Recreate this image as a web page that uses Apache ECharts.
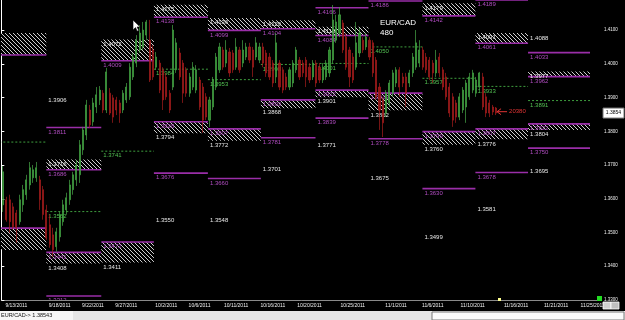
<!DOCTYPE html>
<html><head><meta charset="utf-8">
<script src="https://cdn.jsdelivr.net/npm/echarts@6/dist/echarts.min.js"></script>
<style>html,body{margin:0;padding:0;background:#000;}#c{width:625px;height:320px;}</style>
</head><body><div id="c"></div>
<script>
// ---------- data ----------
const SLOTS = 180; // 8-hour bar slots shown on the time axis (incl. future)
const dateTicks = [[4,'9/13/2011'],[17,'9/18/2011'],[27,'9/22/2011'],[37,'9/27/2011'],[49,'10/2/2011'],[59,'10/6/2011'],[70,'10/11/2011'],[81,'10/16/2011'],[92,'10/20/2011'],[105,'10/25/2011'],[118,'11/1/2011'],[129,'11/6/2011'],[141,'11/10/2011'],[154,'11/16/2011'],[166,'11/21/2011'],[177,'11/25/2011']];
const yTicks = {min: 1.33, max: 1.4189, step: 0.01};

// [open, close, low, high]
const candles = [
[1.3582,1.3680,1.3561,1.3697],[1.3597,1.3538,1.3532,1.3606],[1.3597,1.3532,1.3499,1.3612],[1.3576,1.3517,1.3508,1.3588],
[1.3558,1.3514,1.3470,1.3567],[1.3532,1.3597,1.3523,1.3612],[1.3582,1.3627,1.3561,1.3641],[1.3612,1.3656,1.3597,1.3671],
[1.3641,1.3692,1.3627,1.3709],[1.3662,1.3686,1.3647,1.3700],[1.3662,1.3692,1.3650,1.3709],[1.3656,1.3597,1.3567,1.3668],
[1.3627,1.3553,1.3538,1.3638],[1.3567,1.3484,1.3478,1.3582],[1.3523,1.3464,1.3455,1.3553],[1.3493,1.3449,1.3428,1.3514],
[1.3458,1.3502,1.3443,1.3514],[1.3487,1.3553,1.3473,1.3561],[1.3532,1.3582,1.3520,1.3597],[1.3567,1.3603,1.3553,1.3618],
[1.3597,1.3641,1.3582,1.3656],[1.3627,1.3671,1.3612,1.3680],[1.3656,1.3700,1.3638,1.3715],[1.3671,1.3760,1.3647,1.3774],
[1.3745,1.3804,1.3730,1.3813],[1.3789,1.3878,1.3774,1.3893],[1.3863,1.3819,1.3810,1.3878],[1.3828,1.3884,1.3816,1.3899],
[1.3872,1.3908,1.3854,1.3931],[1.3893,1.3922,1.3878,1.3934],[1.3913,1.3863,1.3854,1.3922],[1.3863,1.3976,1.3854,1.3988],
[1.3913,1.3854,1.3848,1.3928],[1.3899,1.3842,1.3825,1.3908],[1.3893,1.3863,1.3848,1.3902],[1.3884,1.3854,1.3825,1.3893],
[1.3863,1.3913,1.3854,1.3922],[1.3893,1.3931,1.3884,1.3943],[1.3902,1.3990,1.3893,1.4002],[1.3961,1.4020,1.3952,1.4032],
[1.4002,1.4070,1.3990,1.4085],[1.4041,1.4091,1.4032,1.4115],[1.4050,1.4100,1.4041,1.4124],[1.4085,1.4124,1.4070,1.4130],
[1.4070,1.3952,1.3946,1.4130],[1.4041,1.3961,1.3952,1.4056],[1.3990,1.4020,1.3982,1.4035],[1.4002,1.3922,1.3913,1.4011],
[1.3982,1.3893,1.3863,1.3990],[1.3961,1.3902,1.3893,1.3973],[1.3913,1.3863,1.3854,1.3922],[1.3931,1.4100,1.3922,1.4115],
[1.3982,1.4062,1.3973,1.4076],[1.4032,1.3961,1.3952,1.4047],[1.4002,1.3913,1.3884,1.4011],[1.3982,1.3913,1.3902,1.3990],
[1.3913,1.3961,1.3902,1.3973],[1.3931,1.3990,1.3922,1.4005],[1.3922,1.3982,1.3913,1.3996],[1.3952,1.3872,1.3863,1.3961],
[1.3931,1.3833,1.3795,1.3943],[1.3902,1.3842,1.3833,1.3913],[1.3833,1.3893,1.3813,1.3902],[1.3872,1.3952,1.3863,1.3961],
[1.3931,1.4020,1.3922,1.4032],[1.3982,1.4050,1.3973,1.4062],[1.4041,1.3990,1.3982,1.4050],[1.4002,1.4041,1.3990,1.4070],
[1.4035,1.3973,1.3961,1.4047],[1.4032,1.3982,1.3973,1.4041],[1.3990,1.4050,1.3982,1.4076],[1.4041,1.3982,1.3973,1.4050],
[1.4002,1.4041,1.3990,1.4070],[1.4020,1.4050,1.4011,1.4062],[1.4050,1.4011,1.4002,1.4062],[1.4041,1.3990,1.3961,1.4050],
[1.4020,1.4062,1.4011,1.4079],[1.4011,1.4050,1.4002,1.4062],[1.4050,1.4002,1.3990,1.4062],[1.4032,1.3973,1.3961,1.4041],
[1.4020,1.3961,1.3952,1.4032],[1.4002,1.3943,1.3931,1.4011],[1.3961,1.4062,1.3943,1.4091],[1.4002,1.3931,1.3922,1.4011],
[1.3982,1.3922,1.3913,1.3990],[1.3961,1.3931,1.3922,1.3973],[1.3931,1.3982,1.3922,1.3990],[1.3943,1.4002,1.3931,1.4011],
[1.3982,1.4041,1.3973,1.4050],[1.4011,1.3961,1.3952,1.4020],[1.4002,1.3973,1.3961,1.4011],[1.4011,1.3961,1.3931,1.4020],
[1.3990,1.3952,1.3943,1.4002],[1.3961,1.4002,1.3952,1.4011],[1.4002,1.3943,1.3931,1.4011],[1.3990,1.3952,1.3943,1.4002],
[1.3952,1.3990,1.3943,1.4002],[1.3961,1.4002,1.3952,1.4011],[1.3973,1.4041,1.3961,1.4050],[1.4011,1.4130,1.4002,1.4174],
[1.4070,1.4124,1.4062,1.4145],[1.4091,1.4145,1.4079,1.4168],[1.4121,1.4041,1.4032,1.4130],[1.4079,1.3990,1.3982,1.4091],
[1.4041,1.3961,1.3931,1.4050],[1.4020,1.3952,1.3943,1.4032],[1.3990,1.4062,1.3982,1.4124],[1.4032,1.4091,1.4020,1.4106],
[1.4070,1.4041,1.4032,1.4079],[1.4050,1.4079,1.4041,1.4091],[1.4070,1.4020,1.4011,1.4079],[1.4062,1.3973,1.3961,1.4070],
[1.4011,1.3902,1.3893,1.4020],[1.3931,1.3863,1.3804,1.3943],[1.3893,1.3825,1.3783,1.3902],[1.3854,1.3913,1.3842,1.3922],
[1.3884,1.3943,1.3872,1.3952],[1.3913,1.3973,1.3902,1.3982],[1.3943,1.3982,1.3931,1.3990],[1.3982,1.3931,1.3902,1.3990],
[1.3961,1.3943,1.3931,1.3973],[1.3961,1.3913,1.3872,1.3973],[1.3943,1.3973,1.3931,1.3982],[1.3973,1.4020,1.3961,1.4032],
[1.3990,1.4062,1.3982,1.4100],[1.4002,1.4041,1.3990,1.4070],[1.4041,1.3990,1.3982,1.4050],[1.4020,1.3982,1.3973,1.4032],
[1.4011,1.3961,1.3952,1.4020],[1.4002,1.3973,1.3943,1.4011],[1.3973,1.4011,1.3961,1.4041],[1.4020,1.3973,1.3961,1.4032],
[1.3982,1.3931,1.3922,1.3990],[1.3961,1.3902,1.3893,1.3973],[1.3931,1.3854,1.3842,1.3943],[1.3902,1.3833,1.3813,1.3913],
[1.3884,1.3842,1.3825,1.3893],[1.3842,1.3902,1.3833,1.3913],[1.3863,1.3922,1.3854,1.3931],[1.3872,1.3943,1.3825,1.3952],
[1.3902,1.3961,1.3893,1.3973],[1.3922,1.3973,1.3913,1.3982],[1.3913,1.3952,1.3902,1.3961],[1.3931,1.3973,1.3922,1.3976],
[1.3961,1.3872,1.3863,1.3973],[1.3902,1.3854,1.3842,1.3913],[1.3884,1.3854,1.3842,1.3893],[1.3872,1.3857,1.3848,1.3878],
[1.3869,1.3854,1.3848,1.3872]
];
const lastPrice = 1.3854;

// weekly level blocks: week boundaries on the bar-slot scale
const weekBounds = [-3, 13.5, 30.0, 45.8, 62.0, 77.9, 94.3, 110.2, 126.4, 142.3, 158.1, 176.7];
// [week, top, bottom]
const resistZones = [[0,1.4091,1.4026],[1,1.3716,1.3686],[2,1.4072,1.4009],[3,1.4175,1.4138],[4,1.4136,1.4099],[5,1.4129,1.4104],[6,1.4110,1.4084],[8,1.4179,1.4142],[9,1.4091,1.4061],[10,1.3977,1.3962]];
const supportZones = [[0,1.3513,1.3448],[1,1.3441,1.3408],[2,1.3472,1.3411],[3,1.3828,1.3794],[4,1.3807,1.3772],[5,1.3893,1.3868],[6,1.3922,1.3901],[7,1.3913,1.3862],[8,1.3799,1.3760],[9,1.3807,1.3776],[10,1.3822,1.3804]];
// [week, level]
const pivots = [[0,1.3768],[1,1.3562],[2,1.3741],[3,1.3984],[4,1.3953],[5,1.3998],[6,1.4001],[7,1.4050],[8,1.3957],[9,1.3933],[10,1.3891]];
const purpleLevels = [[1,1.3811],[1,1.3312],[3,1.3676],[4,1.3660],[5,1.3781],[6,1.4166],[6,1.3839],[7,1.4186],[7,1.3778],[8,1.3630],[9,1.4189],[9,1.3678],[10,1.4033],[10,1.3750]];
const whiteLevels = [[1,1.3906],[3,1.3550],[4,1.3548],[5,1.3701],[6,1.3771],[7,1.3675],[8,1.3499],[9,1.3581],[10,1.4088],[10,1.3695]];
// price arrow: [from slot, to slot, price, text]
const priceArrow = [151.8, 148.8, 1.3858, '20380'];
const titleText = ['EUR/CAD', '480'];
const statusText = 'EUR/CAD-> 1.38543';

// ---------- build ----------
const FONT = '"Liberation Sans", Arial, sans-serif';
const PURPLE = '#9a2ea8', PURPLE_T = '#b04cc0', WHITE = '#e6e6e6', GREEN = '#3e9e3e', GREEN_T = '#52c052', RED = '#e03434';

const categories = Array.from({length: SLOTS}, () => '');
dateTicks.forEach(([i, s]) => { categories[i] = s; });

const hatchCanvas = document.createElement('canvas');
hatchCanvas.width = 4; hatchCanvas.height = 4;
(function(){ const g = hatchCanvas.getContext('2d'); g.fillStyle = '#000'; g.fillRect(0,0,4,4); g.fillStyle = '#cfcfcf'; for (let i = 0; i < 4; i++) g.fillRect(i, i, 1, 1); })();
const hatch = {image: hatchCanvas, repeat: 'repeat'};

const overlay = [];
resistZones.forEach(([w,a,b]) => overlay.push([weekBounds[w], weekBounds[w+1], 0, a, b]));
supportZones.forEach(([w,a,b]) => overlay.push([weekBounds[w], weekBounds[w+1], 1, a, b]));
pivots.forEach(([w,v]) => overlay.push([weekBounds[w], weekBounds[w+1], 2, v, v]));
purpleLevels.forEach(([w,v]) => overlay.push([weekBounds[w], weekBounds[w+1], 3, v, v]));
whiteLevels.forEach(([w,v]) => overlay.push([weekBounds[w], weekBounds[w+1], 4, v, v]));
overlay.push([priceArrow[1], priceArrow[0], 5, priceArrow[2], priceArrow[2]]);

function txt(x, y, s, fill, size) {
  return {type: 'text', silent: true, style: {text: s, x: x, y: y, fill: fill, fontSize: size || 6, fontFamily: FONT, verticalAlign: 'top', align: 'left'}};
}
function renderItem(params, api) {
  const x0 = api.value(0), x1 = api.value(1), kind = api.value(2), a = api.value(3), b = api.value(4);
  const pA = api.coord([x0, a]);
  const X0 = pA[0], YA = pA[1], X1 = api.coord([x1, a])[0];
  const YB = api.coord([x1, b])[1];
  const lab = x0 >= 0;
  const kids = [];
  if (kind === 0 || kind === 1) {
    kids.push({type: 'rect', shape: {x: X0, y: YA, width: X1 - X0, height: YB - YA}, style: {fill: hatch}});
    const yl = kind === 0 ? YB : YA;
    kids.push({type: 'line', shape: {x1: X0, y1: yl, x2: X1, y2: yl}, style: {stroke: PURPLE, lineWidth: 1.6}});
    if (lab) {
      kids.push(txt(X0 + 2, YA + 1.5, a.toFixed(4), kind === 0 ? WHITE : PURPLE_T));
      kids.push(txt(X0 + 2, YB + 1.5, b.toFixed(4), kind === 0 ? PURPLE_T : WHITE));
    }
  } else if (kind === 2) {
    kids.push({type: 'line', shape: {x1: X0, y1: YA, x2: X1, y2: YA}, style: {stroke: GREEN, lineWidth: 1, lineDash: [2, 2]}});
    if (lab) kids.push(txt(X0 + 2, YA + 1.5, a.toFixed(4), GREEN_T));
  } else if (kind === 3) {
    kids.push({type: 'line', shape: {x1: X0, y1: YA, x2: X1, y2: YA}, style: {stroke: PURPLE, lineWidth: 1.6}});
    if (lab) kids.push(txt(X0 + 2, YA + 1.5, a.toFixed(4), PURPLE_T));
  } else if (kind === 4) {
    if (lab) kids.push(txt(X0 + 2, YA + 1.5, a.toFixed(4), WHITE));
  } else if (kind === 5) {
    kids.push({type: 'line', shape: {x1: X1, y1: YA, x2: X0, y2: YA}, style: {stroke: RED, lineWidth: 1}});
    kids.push({type: 'polyline', shape: {points: [[X0 + 4, YA - 3], [X0, YA], [X0 + 4, YA + 3]]}, style: {stroke: RED, lineWidth: 1, fill: null}});
    kids.push(txt(X1 + 2, YA - 3, priceArrow[3], RED, 6));
  }
  return {type: 'group', children: kids};
}

const chart = echarts.init(document.getElementById('c'), null, {renderer: 'canvas'});
chart.setOption({
  animation: false,
  backgroundColor: '#000',
  grid: {left: 0, right: 24, top: 0, bottom: 20, containLabel: false},
  xAxis: [
    {type: 'category', data: categories, boundaryGap: true,
     axisLine: {lineStyle: {color: '#8a8a8a'}}, axisTick: {show: false},
     axisLabel: {interval: 0, color: '#f0f0f0', fontSize: 5, margin: 3, fontFamily: FONT},
     splitLine: {show: false}},
    {type: 'value', min: 0, max: SLOTS, show: false, splitLine: {show: false}}
  ],
  yAxis: {type: 'value', position: 'right', min: yTicks.min, max: yTicks.max, interval: yTicks.step,
    splitLine: {show: false},
    axisLine: {show: true, lineStyle: {color: '#ffffff'}},
    axisTick: {show: true, length: 3, lineStyle: {color: '#ffffff'}},
    axisLabel: {color: '#f0f0f0', fontSize: 4.5, margin: 3, fontFamily: FONT, showMaxLabel: false,
      formatter: v => v.toFixed(4)}},
  series: [
    {type: 'custom', xAxisIndex: 1, yAxisIndex: 0, z: 1, clip: true, silent: true,
     renderItem: renderItem, data: overlay, encode: {x: [0, 1], y: [3, 4]}},
    {type: 'candlestick', xAxisIndex: 0, yAxisIndex: 0, z: 3, data: candles, barWidth: 1.6,
     itemStyle: {color: '#2c8a2c', color0: '#8e1616', borderColor: '#48a848', borderColor0: '#a81c1c', borderWidth: 0.7}}
  ],
  graphic: [
    {type: 'text', left: 380, top: 19, z: 10, style: {text: titleText[0], fill: '#fff', fontSize: 8, fontFamily: FONT}},
    {type: 'text', left: 380, top: 29, z: 10, style: {text: titleText[1], fill: '#fff', fontSize: 8, fontFamily: FONT}},
    {type: 'polygon', z: 20, shape: {points: [[133,20],[133,30],[135.5,27.6],[137.2,31.2],[138.8,30.5],[137.1,27],[140.2,27]]}, style: {fill: '#fff', stroke: '#000', lineWidth: 0.6}},
    {type: 'rect', z: 10, shape: {x: 0, y: 311, width: 625, height: 9}, style: {fill: '#e6e6e6'}},
    {type: 'rect', z: 10, shape: {x: 0, y: 311, width: 73, height: 9}, style: {fill: '#f6f6f6'}},
    {type: 'rect', z: 10, shape: {x: 432, y: 312, width: 192, height: 8}, style: {fill: '#fbfbfb', stroke: '#7a7a7a', lineWidth: 1}},
    {type: 'text', z: 11, left: 1, top: 312.5, style: {text: statusText, fill: '#111', fontSize: 5.5, fontFamily: FONT}},
    {type: 'rect', z: 12, shape: {x: 597, y: 296, width: 5, height: 5}, style: {fill: '#22dd22'}},
    {type: 'rect', z: 12, shape: {x: 498, y: 298, width: 3, height: 3}, style: {fill: '#ffff90'}},
    {type: 'rect', z: 12, shape: {x: 603, y: 302, width: 8, height: 7}, style: {fill: '#d0d0d0', stroke: '#fff', lineWidth: 0.8}},
    {type: 'rect', z: 12, shape: {x: 611, y: 302, width: 8, height: 7}, style: {fill: '#c0c0c0', stroke: '#fff', lineWidth: 0.8}}
  ]
});
// current-price tag on the price scale, positioned through the y axis scale
const yLast = chart.convertToPixel({yAxisIndex: 0}, lastPrice);
const gridRight = 625 - 24;
chart.setOption({graphic: [
  {id: 'lastTag', type: 'rect', z: 30, shape: {x: gridRight + 2, y: yLast - 5, width: 21, height: 10}, style: {fill: '#ffffff', stroke: '#777', lineWidth: 1}},
  {id: 'lastTxt', type: 'text', z: 31, x: gridRight + 12.5, y: yLast, style: {text: lastPrice.toFixed(4), fill: '#000', fontSize: 5, fontFamily: FONT, align: 'center', verticalAlign: 'middle'}}
]});
</script>
</body></html>
